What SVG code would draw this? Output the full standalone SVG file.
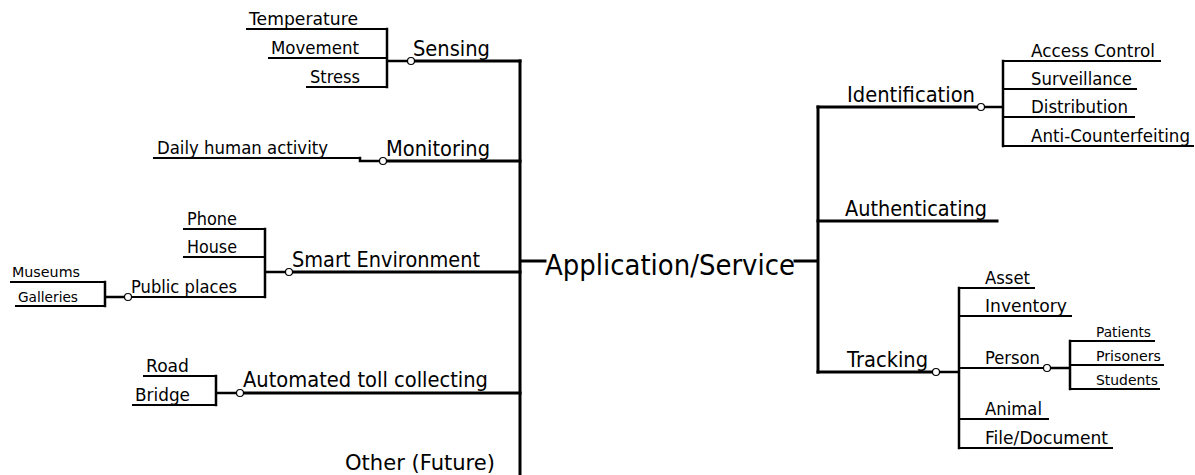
<svg xmlns="http://www.w3.org/2000/svg" width="1195" height="475" viewBox="0 0 1195 475">
<style>
text{font-family:"DejaVu Sans","Liberation Sans",sans-serif;fill:#000}
.main{font-size:29px}
.l2{font-size:21px}
.l3{font-size:17px}
.l4{font-size:14px}
.u{stroke:#000;stroke-width:2;fill:none}
.t{stroke:#000;stroke-width:3;fill:none;stroke-linecap:square}
.b{stroke:#000;stroke-width:2.5;fill:none;stroke-linecap:square}
.c{fill:#fff;stroke:#000;stroke-width:1.2}
</style>
<rect width="1195" height="475" fill="#fff"/>
<g id="connectors">
<path class="t" d="M520 61V477M520 261H545M795 261H818M818 107V372"/>
<path class="t" d="M414.5 61H520M386.5 161H520M292.5 272H520M243.5 393H520"/>
<path class="t" d="M818 107H977.5M818 221H997M818 372H932.5"/>
<path class="b" d="M387 29V87M387 61H407.5"/>
<path class="b" d="M360 158V161H379.5"/>
<path class="b" d="M265 229V297M265 272H285.5"/>
<path class="b" d="M105 282V306M105 297H124.5"/>
<path class="b" d="M216 376V405M216 393H236.5"/>
<path class="b" d="M984.5 107H1003M1003 61V146"/>
<path class="b" d="M939.5 372H959M959 288V448"/>
<path class="b" d="M1050.5 368H1070M1070 341V389"/>
<circle class="c" cx="411" cy="61" r="3.5"/>
<circle class="c" cx="383" cy="161" r="3.5"/>
<circle class="c" cx="289" cy="272" r="3.5"/>
<circle class="c" cx="128" cy="297" r="3.5"/>
<circle class="c" cx="240" cy="393" r="3.5"/>
<circle class="c" cx="981" cy="107" r="3.5"/>
<circle class="c" cx="936" cy="372" r="3.5"/>
<circle class="c" cx="1047" cy="368" r="3.5"/>
</g>
<g id="app"><text class="main" x="545" y="275" textLength="250" lengthAdjust="spacingAndGlyphs">Application/Service</text></g>
<g id="sensing"><text class="l2" x="413" y="56" textLength="77" lengthAdjust="spacingAndGlyphs">Sensing</text></g>
<g id="temperature"><text class="l3" x="249" y="25" textLength="109" lengthAdjust="spacingAndGlyphs">Temperature</text><path class="u" d="M246 29H387"/></g>
<g id="movement"><text class="l3" x="271" y="54" textLength="88" lengthAdjust="spacingAndGlyphs">Movement</text><path class="u" d="M268 58H387"/></g>
<g id="stress"><text class="l3" x="310" y="83" textLength="50" lengthAdjust="spacingAndGlyphs">Stress</text><path class="u" d="M306 87H387"/></g>
<g id="monitoring"><text class="l2" x="386" y="156" textLength="104" lengthAdjust="spacingAndGlyphs">Monitoring</text></g>
<g id="daily"><text class="l3" x="157" y="154" textLength="171" lengthAdjust="spacingAndGlyphs">Daily human activity</text><path class="u" d="M153 158H360"/></g>
<g id="smart"><text class="l2" x="292" y="267" textLength="188" lengthAdjust="spacingAndGlyphs">Smart Environment</text></g>
<g id="phone"><text class="l3" x="187" y="225" textLength="50" lengthAdjust="spacingAndGlyphs">Phone</text><path class="u" d="M183 229H265"/></g>
<g id="house"><text class="l3" x="187" y="253" textLength="50" lengthAdjust="spacingAndGlyphs">House</text><path class="u" d="M183 257H265"/></g>
<g id="public"><text class="l3" x="131" y="293" textLength="106" lengthAdjust="spacingAndGlyphs">Public places</text><path class="u" d="M131.5 297H265"/></g>
<g id="museums"><text class="l4" x="12" y="277" textLength="68" lengthAdjust="spacingAndGlyphs">Museums</text><path class="u" d="M10 282H105"/></g>
<g id="galleries"><text class="l4" x="18" y="302" textLength="60" lengthAdjust="spacingAndGlyphs">Galleries</text><path class="u" d="M15 306H105"/></g>
<g id="toll"><text class="l2" x="243" y="387" textLength="245" lengthAdjust="spacingAndGlyphs">Automated toll collecting</text></g>
<g id="road"><text class="l3" x="146" y="372" textLength="43" lengthAdjust="spacingAndGlyphs">Road</text><path class="u" d="M143 376H216"/></g>
<g id="bridge"><text class="l3" x="135" y="401" textLength="55" lengthAdjust="spacingAndGlyphs">Bridge</text><path class="u" d="M132 405H216"/></g>
<g id="other"><text class="l2" x="345" y="470" textLength="150" lengthAdjust="spacingAndGlyphs">Other (Future)</text></g>
<g id="identification"><text class="l2" x="847" y="102" textLength="128" lengthAdjust="spacingAndGlyphs">Identification</text></g>
<g id="access"><text class="l3" x="1031" y="57" textLength="124" lengthAdjust="spacingAndGlyphs">Access Control</text><path class="u" d="M1003 61H1161"/></g>
<g id="surveillance"><text class="l3" x="1031" y="85" textLength="101" lengthAdjust="spacingAndGlyphs">Surveillance</text><path class="u" d="M1003 89H1137"/></g>
<g id="distribution"><text class="l3" x="1031" y="113" textLength="97" lengthAdjust="spacingAndGlyphs">Distribution</text><path class="u" d="M1003 117H1135"/></g>
<g id="anti"><text class="l3" x="1031" y="142" textLength="159" lengthAdjust="spacingAndGlyphs">Anti-Counterfeiting</text><path class="u" d="M1003 146H1194"/></g>
<g id="authenticating"><text class="l2" x="845" y="216" textLength="142" lengthAdjust="spacingAndGlyphs">Authenticating</text></g>
<g id="tracking"><text class="l2" x="847" y="367" textLength="81" lengthAdjust="spacingAndGlyphs">Tracking</text></g>
<g id="asset"><text class="l3" x="985" y="284" textLength="45" lengthAdjust="spacingAndGlyphs">Asset</text><path class="u" d="M959 288H1035"/></g>
<g id="inventory"><text class="l3" x="985" y="312" textLength="82" lengthAdjust="spacingAndGlyphs">Inventory</text><path class="u" d="M959 316H1072"/></g>
<g id="person"><text class="l3" x="985" y="364" textLength="55" lengthAdjust="spacingAndGlyphs">Person</text><path class="u" d="M959 368H1043.5"/></g>
<g id="animal"><text class="l3" x="985" y="415" textLength="57" lengthAdjust="spacingAndGlyphs">Animal</text><path class="u" d="M959 419H1049"/></g>
<g id="file"><text class="l3" x="985" y="444" textLength="123" lengthAdjust="spacingAndGlyphs">File/Document</text><path class="u" d="M959 448H1113"/></g>
<g id="patients"><text class="l4" x="1096" y="337" textLength="55" lengthAdjust="spacingAndGlyphs">Patients</text><path class="u" d="M1070 341H1155"/></g>
<g id="prisoners"><text class="l4" x="1096" y="361" textLength="65" lengthAdjust="spacingAndGlyphs">Prisoners</text><path class="u" d="M1070 365H1164"/></g>
<g id="students"><text class="l4" x="1096" y="385" textLength="62" lengthAdjust="spacingAndGlyphs">Students</text><path class="u" d="M1070 389H1160"/></g>
</svg>
